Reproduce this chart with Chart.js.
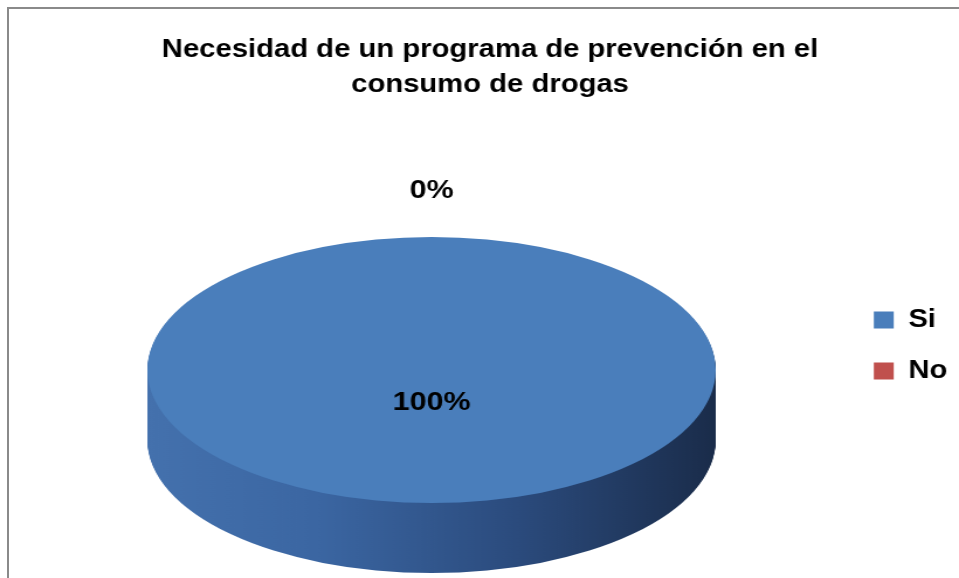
<!DOCTYPE html>
<html>
<head>
<meta charset="utf-8">
<title>Necesidad de un programa de prevención</title>
<script src="https://cdn.jsdelivr.net/npm/chart.js@4.4.0/dist/chart.umd.min.js"></script>
<style>
  html, body { margin: 0; padding: 0; background: #fff; overflow: hidden; }
  #wrap { position: relative; width: 959px; height: 578px; overflow: hidden; }
  #frame {
    position: absolute; left: 7px; top: 7px; width: 1000px; height: 700px;
    border-left: 2px solid #8a8a8a; border-top: 2px solid #8a8a8a;
  }
  /* the chart is drawn narrow and stretched out to full width */
  canvas { position: absolute; left: 0; top: 0; width: 959px !important; height: 578px !important; }
</style>
</head>
<body>
<div id="wrap">
  <div id="frame"></div>
  <canvas id="chart" width="820" height="578"></canvas>
</div>
<script>
// Survey answers
const categories = ['Si', 'No'];
const values = [100, 0];
const sliceColors = ['#4a7ebb', '#c0504d'];
const titleLines = ['Necesidad de un programa de prevención en el', 'consumo de drogas'];

// Where the tilted disc sits on the (narrow) canvas
const CX = 369, CY = 370, RX = 243, RY = 133, DEPTH = 70;
const FONT = '"Liberation Sans", Arial, sans-serif';

function tilt(ctx, arc) {
  ctx.translate(CX, CY);
  ctx.scale(RX / arc.outerRadius, RY / arc.outerRadius);
  ctx.translate(-arc.x, -arc.y);
}

const pie3d = {
  id: 'pie3d',
  beforeDatasetsDraw(chart) {
    const ctx = chart.ctx;
    const arcs = chart.getDatasetMeta(0).data;
    // side wall: darker copies of each slice pushed down one pixel at a time
    arcs.forEach((arc, i) => {
      if (!values[i]) return;
      const r = arc.outerRadius;
      const g = ctx.createLinearGradient(arc.x - r, 0, arc.x + r, 0);
      g.addColorStop(0, '#4471ad');
      g.addColorStop(0.3, '#3b66a2');
      g.addColorStop(0.65, '#2b4b7d');
      g.addColorStop(1, '#1a2c4a');
      const saved = arc.options.backgroundColor;
      arc.options.backgroundColor = g;
      for (let d = DEPTH; d > 0; d--) {
        ctx.save();
        ctx.translate(0, d);
        tilt(ctx, arc);
        arc.draw(ctx);
        ctx.restore();
      }
      arc.options.backgroundColor = saved;
    });
    ctx.save();
    tilt(ctx, arcs[0]);
  },
  afterDatasetsDraw(chart) {
    const ctx = chart.ctx;
    ctx.restore();
    const arcs = chart.getDatasetMeta(0).data;
    const total = values.reduce((a, b) => a + b, 0);
    ctx.save();
    ctx.fillStyle = '#000';
    ctx.font = 'bold 26px ' + FONT;
    ctx.textAlign = 'center';
    ctx.textBaseline = 'middle';
    arcs.forEach((arc, i) => {
      const mid = (arc.startAngle + arc.endAngle) / 2;
      const f = values[i] ? 0.25 : 1.35;
      const x = CX + Math.cos(mid) * RX * f;
      const y = CY + Math.sin(mid) * RY * f;
      ctx.fillText(Math.round(values[i] / total * 100) + '%', x, y);
    });
    ctx.restore();
  }
};

new Chart(document.getElementById('chart'), {
  type: 'pie',
  data: {
    labels: categories,
    datasets: [{
      data: values,
      backgroundColor: sliceColors,
      borderWidth: 0
    }]
  },
  options: {
    responsive: false,
    animation: false,
    events: [],
    devicePixelRatio: 1,
    layout: { padding: { left: 18, right: 0, top: 0, bottom: 0 } },
    plugins: {
      title: {
        display: true,
        text: titleLines,
        color: '#000',
        font: { family: FONT, size: 25, weight: 'bold', lineHeight: 1.4 },
        padding: { top: 33, bottom: 10 }
      },
      legend: {
        position: 'right',
        fullSize: false,
        labels: {
          color: '#000',
          boxWidth: 17,
          boxHeight: 17,
          padding: 26,
          font: { family: FONT, size: 25, weight: 'bold' }
        }
      },
      tooltip: { enabled: false }
    }
  },
  plugins: [pie3d]
});
</script>
</body>
</html>
